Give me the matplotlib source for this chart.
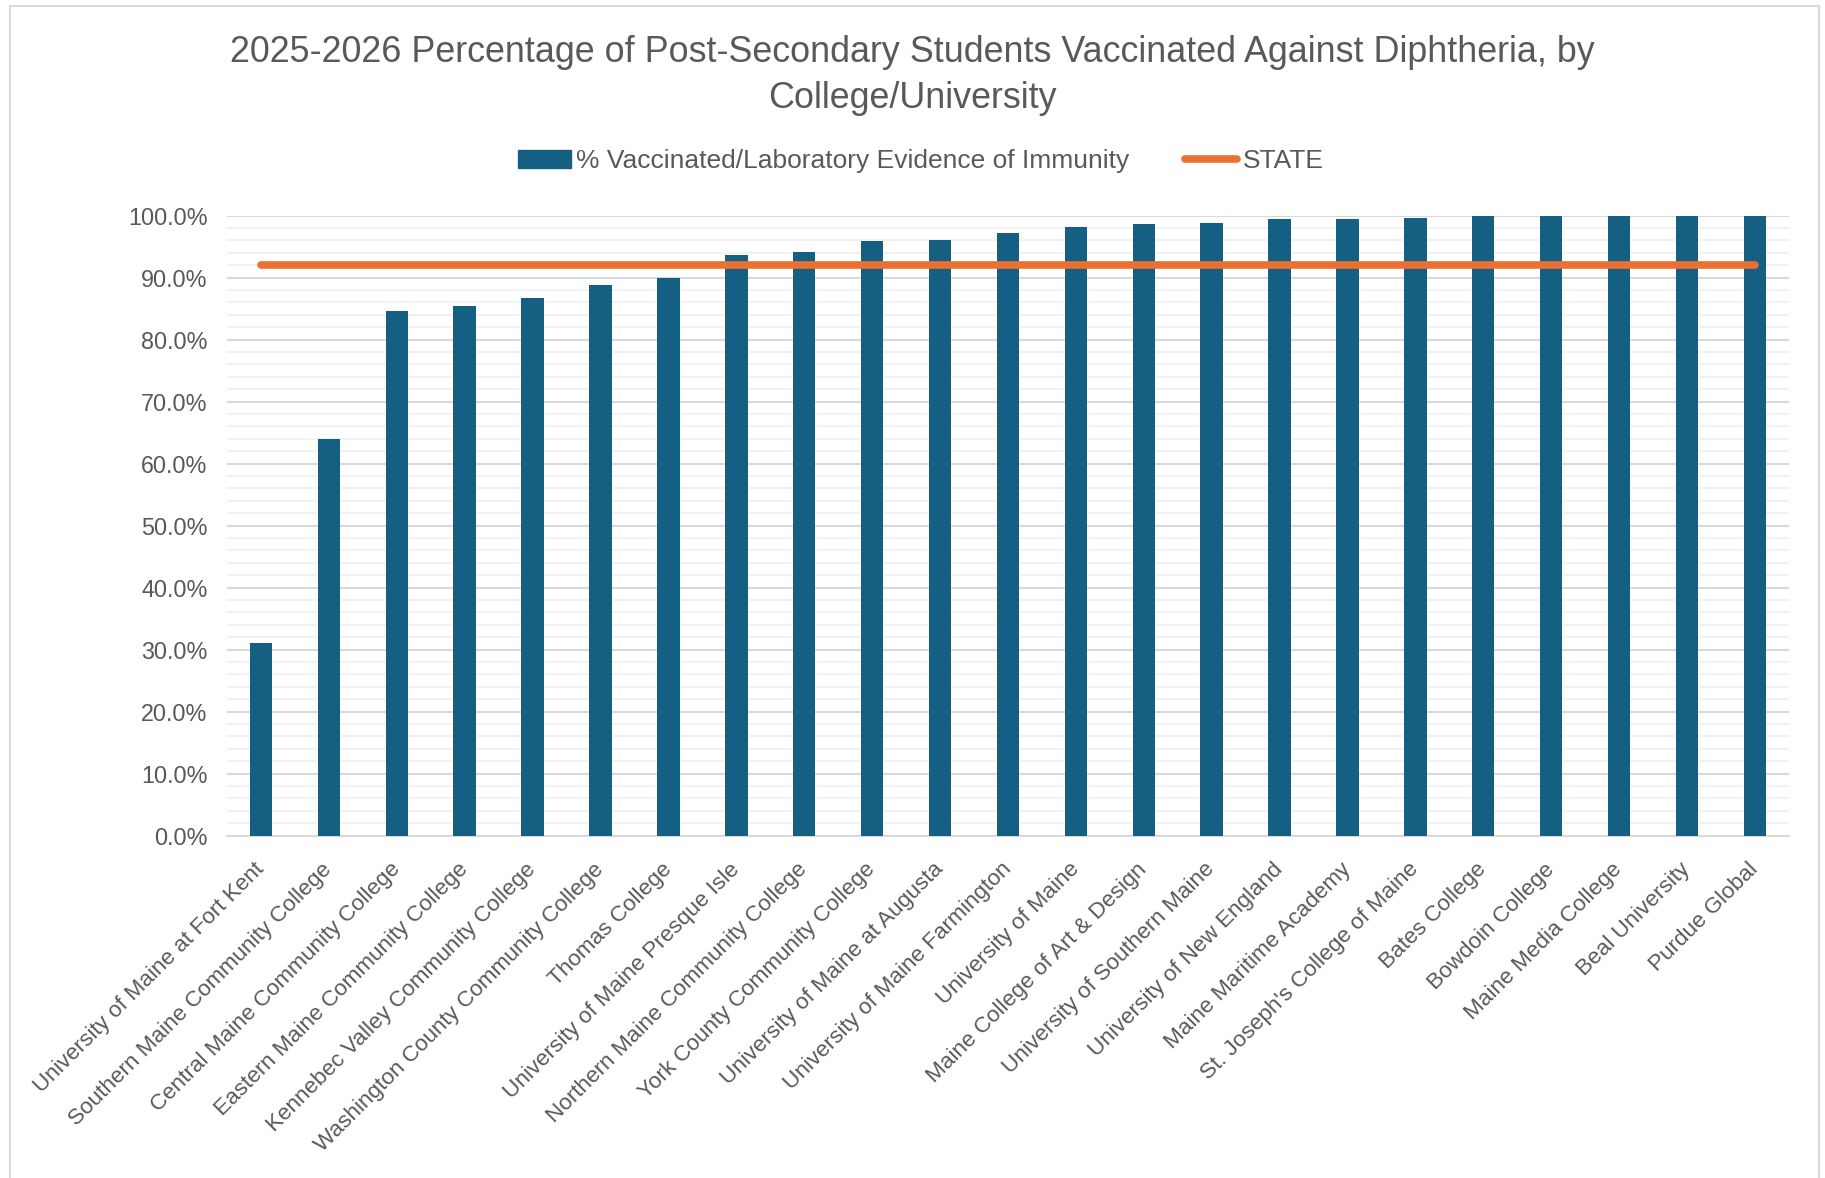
import numpy as np
import matplotlib.pyplot as plt
from matplotlib.ticker import MultipleLocator, PercentFormatter
from matplotlib.patches import Rectangle
from matplotlib.lines import Line2D

plt.rcParams['font.family'] = ['Liberation Sans', 'DejaVu Sans']

# --- datos ---
colleges = [
    "University of Maine at Fort Kent",
    "Southern Maine Community College",
    "Central Maine Community College",
    "Eastern Maine Community College",
    "Kennebec Valley Community College",
    "Washington County Community College",
    "Thomas College",
    "University of Maine Presque Isle",
    "Northern Maine Community College",
    "York County Community College",
    "University of Maine at Augusta",
    "University of Maine Farmington",
    "University of Maine",
    "Maine College of Art & Design",
    "University of Southern Maine",
    "University of New England",
    "Maine Maritime Academy",
    "St. Joseph's College of Maine",
    "Bates College",
    "Bowdoin College",
    "Maine Media College",
    "Beal University",
    "Purdue Global",
]
pct_vaccinated = [31.0, 64.0, 84.6, 85.4, 86.8, 88.8, 89.9, 93.7, 94.2, 95.9,
                  96.0, 97.2, 98.2, 98.7, 98.8, 99.4, 99.5, 99.7, 100.0, 100.0,
                  100.0, 100.0, 100.0]
state_pct = [92.1] * len(colleges)

BAR_COLOR = '#156082'
LINE_COLOR = '#E97132'
TEXT_COLOR = '#595959'

fig = plt.figure(figsize=(18.25, 11.78), dpi=100)
ax = fig.add_axes([0.1244, 0.2906, 0.8558, 0.5263])

x = np.arange(len(colleges))
ax.bar(x, pct_vaccinated, width=0.33, color=BAR_COLOR, zorder=3)
ax.plot(x, state_pct, color=LINE_COLOR, linewidth=5.5, solid_capstyle='round', zorder=4)

ax.set_xlim(-0.5, len(colleges) - 0.5)
ax.set_ylim(0, 100)
ax.yaxis.set_major_locator(MultipleLocator(10))
ax.yaxis.set_minor_locator(MultipleLocator(2))
ax.yaxis.set_major_formatter(PercentFormatter(decimals=1))
ax.grid(True, which='major', axis='y', color='#D9D9D9', linewidth=1.5, zorder=0)
ax.grid(True, which='minor', axis='y', color='#F2F2F2', linewidth=1.5, zorder=0)
ax.set_axisbelow(True)

for s in ['top', 'right', 'left']:
    ax.spines[s].set_visible(False)
ax.spines['bottom'].set_color('#D9D9D9')
ax.spines['bottom'].set_linewidth(1.5)

ax.tick_params(axis='both', which='both', length=0, colors=TEXT_COLOR)
ax.tick_params(axis='y', labelsize=16.8, pad=14)
ax.set_xticks(x)
ax.set_xticklabels(colleges, rotation=45, ha='right', va='center',
                   rotation_mode='anchor')
ax.tick_params(axis='x', labelsize=16.2, pad=22)

# titulo
fig.text(0.5, 0.936,
         "2025-2026 Percentage of Post-Secondary Students Vaccinated Against Diphtheria, by\nCollege/University",
         ha='center', va='center', fontsize=25.8, color=TEXT_COLOR, linespacing=1.42)

# leyenda
handles = [Rectangle((0, 0), 1, 1, color=BAR_COLOR),
           Line2D([0], [0], color=LINE_COLOR, linewidth=5.5, solid_capstyle='round')]
labels = ['% Vaccinated/Laboratory Evidence of Immunity', 'STATE']
fig.legend(handles, labels, loc='center', bbox_to_anchor=(0.5045, 0.863), ncol=2,
           frameon=False, fontsize=19, labelcolor=TEXT_COLOR, handlelength=2.0,
           handletextpad=0.2, columnspacing=2.1)

# borde del area del grafico
fig.patches.append(Rectangle((10 / 1825, -0.01), (1819 - 10) / 1825, 1 - 6 / 1178 + 0.01,
                             transform=fig.transFigure, fill=False,
                             edgecolor='#D9D9D9', linewidth=1.5))

fig.savefig('out.png', dpi=100)
